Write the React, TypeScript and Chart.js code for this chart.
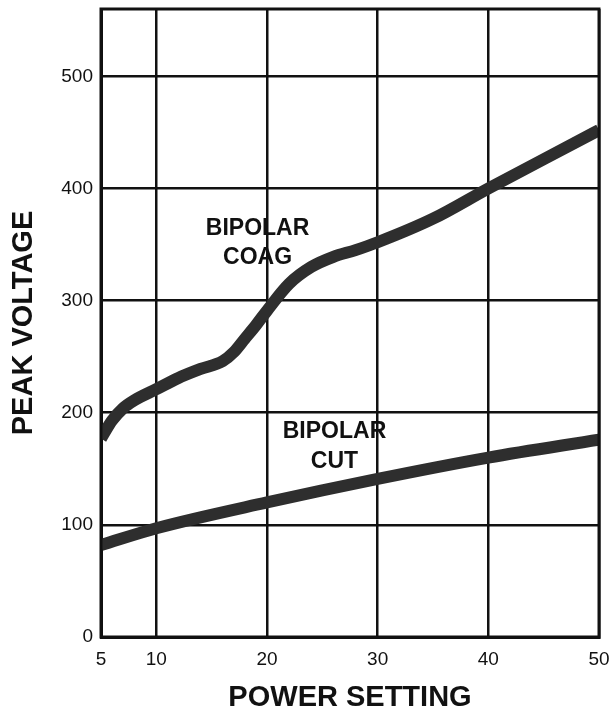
import React, { useEffect, useRef } from "react";
import { Chart, registerables } from "chart.js";

Chart.register(...registerables);

const POWER_COAG = [5, 6, 7, 8, 10, 12, 14, 16, 17, 18, 19, 20, 22, 24, 26, 28, 30, 35, 40, 45, 50];
const COAG_VOLTS = [177, 193, 204, 211, 221, 231, 239, 246, 254, 266, 278, 291, 315, 330, 339, 345, 352, 373, 400, 426, 452];
const POWER_CUT = [5, 10, 20, 30, 40, 50];
const CUT_VOLTS = [82, 97, 120, 141, 160, 176];
const X_TICKS = [5, 10, 20, 30, 40, 50];
const Y_TICKS = [0, 100, 200, 300, 400, 500];
const Y_MAX = 560;
const X_TITLE = "POWER SETTING";
const Y_TITLE = "PEAK VOLTAGE";
const LABELS = [
  { lines: ["BIPOLAR", "COAG"], x: 19.15, y: [364, 338.5] },
  { lines: ["BIPOLAR", "CUT"], x: 26.1, y: [183, 156] },
];

const FONT = "'Liberation Sans', Arial, Helvetica, sans-serif";
const INK = "#111";

const framePlugin = {
  id: "frameAndLabels",
  afterDatasetsDraw(chart: any) {
    const { ctx, chartArea, scales } = chart;
    ctx.save();
    ctx.strokeStyle = INK;
    ctx.lineWidth = 3;
    ctx.strokeRect(chartArea.left, chartArea.top, chartArea.right - chartArea.left, chartArea.bottom - chartArea.top);
    ctx.fillStyle = INK;
    ctx.font = `bold 23px ${FONT}`;
    ctx.textAlign = "center";
    ctx.textBaseline = "middle";
    for (const lab of LABELS) {
      lab.lines.forEach((t, i) => {
        ctx.fillText(t, scales.x.getPixelForValue(lab.x), scales.y.getPixelForValue(lab.y[i]));
      });
    }
    ctx.restore();
  },
};

export default function App() {
  const ref = useRef<HTMLCanvasElement | null>(null);
  useEffect(() => {
    if (!ref.current) return;
    const coag = POWER_COAG.map((x, i) => ({ x, y: COAG_VOLTS[i] }));
    const cut = POWER_CUT.map((x, i) => ({ x, y: CUT_VOLTS[i] }));
    const chart = new Chart(ref.current, {
      type: "line",
      data: {
        datasets: [
          {
            label: "BIPOLAR COAG",
            data: coag,
            borderColor: "#2e2e2e",
            borderWidth: 12,
            pointRadius: 0,
            cubicInterpolationMode: "monotone",
            fill: false,
          },
          {
            label: "BIPOLAR CUT",
            data: cut,
            borderColor: "#2e2e2e",
            borderWidth: 12,
            pointRadius: 0,
            cubicInterpolationMode: "monotone",
            fill: false,
          },
        ],
      },
      options: {
        animation: false,
        responsive: false,
        maintainAspectRatio: false,
        layout: { autoPadding: false, padding: { top: 9, right: 17, bottom: 0, left: 0 } },
        plugins: { legend: { display: false }, tooltip: { enabled: false } },
        scales: {
          x: {
            type: "linear",
            min: 5,
            max: 50,
            afterBuildTicks: (s: any) => {
              s.ticks = X_TICKS.map((v) => ({ value: v }));
            },
            afterFit: (s: any) => {
              s.height = 80;
              s.paddingLeft = 0;
              s.paddingRight = 0;
              s.paddingTop = 0;
              s.paddingBottom = 0;
            },
            ticks: { color: INK, font: { family: FONT, size: 19 }, padding: 11, maxRotation: 0, autoSkip: false },
            grid: { color: INK, lineWidth: 2.5, drawTicks: false },
            border: { color: INK, width: 3 },
            title: {
              display: true,
              text: X_TITLE,
              color: INK,
              font: { family: FONT, size: 29, weight: "bold" },
              padding: { top: 0, bottom: 2 },
            },
          },
          y: {
            type: "linear",
            min: 0,
            max: Y_MAX,
            afterBuildTicks: (s: any) => {
              s.ticks = Y_TICKS.map((v) => ({ value: v }));
            },
            afterFit: (s: any) => {
              s.width = 101;
              s.paddingLeft = 0;
              s.paddingRight = 0;
              s.paddingTop = 0;
              s.paddingBottom = 0;
            },
            ticks: { color: INK, font: { family: FONT, size: 19 }, padding: 8, autoSkip: false },
            grid: { color: INK, lineWidth: 2.5, drawTicks: false },
            border: { color: INK, width: 3 },
            title: {
              display: true,
              text: Y_TITLE,
              color: INK,
              font: { family: FONT, size: 29, weight: "bold" },
              padding: { top: 7, bottom: 0 },
            },
          },
        },
      } as any,
      plugins: [framePlugin],
    });
    return () => chart.destroy();
  }, []);
  return (
    <div style={{ position: "absolute", left: 0, top: 0, width: 616, height: 717, background: "#fff" }}>
      <canvas ref={ref} width={616} height={717} style={{ width: 616, height: 717 }} />
    </div>
  );
}
